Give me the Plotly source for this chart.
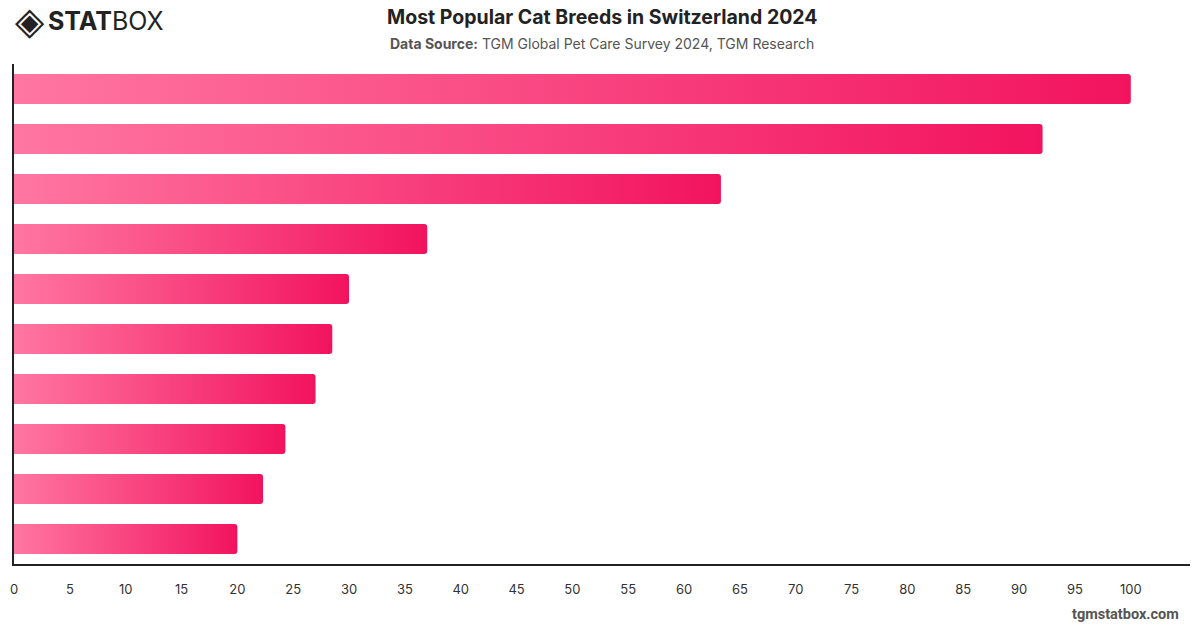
import plotly.graph_objects as go

# ---- data ----
breeds = ["Breed 1", "Breed 2", "Breed 3", "Breed 4", "Breed 5",
          "Breed 6", "Breed 7", "Breed 8", "Breed 9", "Breed 10"]
values = [100, 92.1, 63.3, 37.0, 30.0, 28.5, 27.0, 24.3, 22.3, 20.0]
x_ticks = list(range(0, 101, 5))

# ---- styles ----
C_START = "#ff76a2"
C_END = "#f2135f"
HALF = 0.3
CAP = 0.35

positions = list(range(len(values)))

fig = go.Figure()

# rounded-cap bars in end colour (underneath)
fig.add_trace(go.Bar(
    x=values, y=positions, orientation="h", width=2 * HALF,
    marker=dict(color=C_END, cornerradius=3, line=dict(width=0)),
    hovertext=breeds, hoverinfo="text+x", showlegend=False,
))

# gradient bodies drawn on top
for name, pos, v in zip(breeds, positions, values):
    fig.add_trace(go.Scatter(
        x=[0, v - CAP, v - CAP, 0, 0],
        y=[pos - HALF, pos - HALF, pos + HALF, pos + HALF, pos - HALF],
        mode="lines", fill="toself", line=dict(width=0),
        fillgradient=dict(type="horizontal", start=0, stop=v,
                          colorscale=[[0, C_START], [1, C_END]]),
        hoverinfo="skip", showlegend=False, name=name,
    ))

W, H = 1200, 628
L, R, T, B = 10, 10, 64, 64

fig.update_layout(
    width=W, height=H,
    margin=dict(l=L, r=R, t=T, b=B),
    paper_bgcolor="white", plot_bgcolor="white",
    font=dict(family="Inter, Roboto, sans-serif", color="#333"),
    xaxis=dict(
        range=[0, 105.3], tickvals=x_ticks, ticktext=[str(t) for t in x_ticks],
        showgrid=False, zeroline=False, showline=True, linecolor="#222",
        linewidth=1.5, ticks="", ticklabelstandoff=13,
        tickfont=dict(size=13, color="#333"), fixedrange=True,
    ),
    yaxis=dict(
        range=[len(values) - 0.5, -0.5], showticklabels=False,
        showgrid=False, zeroline=False, showline=True, linecolor="#222",
        linewidth=1.5, ticks="", fixedrange=True,
    ),
)

pw, ph = W - L - R, H - T - B


def pix_ann(text, px, py, size, color, family, xanchor="center"):
    return dict(text=text, x=(px - L) / pw, y=(H - B - py) / ph,
                xref="paper", yref="paper", showarrow=False,
                xanchor=xanchor, yanchor="middle",
                font=dict(size=size, color=color, family=family))


fig.update_layout(annotations=[
    pix_ann("<b>Most Popular Cat Breeds in Switzerland 2024</b>", 600, 17,
            19.5, "#222", "Inter, sans-serif"),
    pix_ann("<b>Data Source:</b> TGM Global Pet Care Survey 2024, TGM Research",
            600, 44, 14, "#555", "Inter, sans-serif"),
    pix_ann("◈", 9, 21, 38, "#222", "DejaVu Sans, sans-serif", "left"),
    pix_ann("<b>STAT</b>BOX", 42, 21, 25, "#222", "Inter, sans-serif", "left"),
    pix_ann("<b>tgmstatbox.com</b>", 1181, 614, 14.5, "#555",
            "Roboto, sans-serif", "right"),
])

fig.write_html("out.html")
